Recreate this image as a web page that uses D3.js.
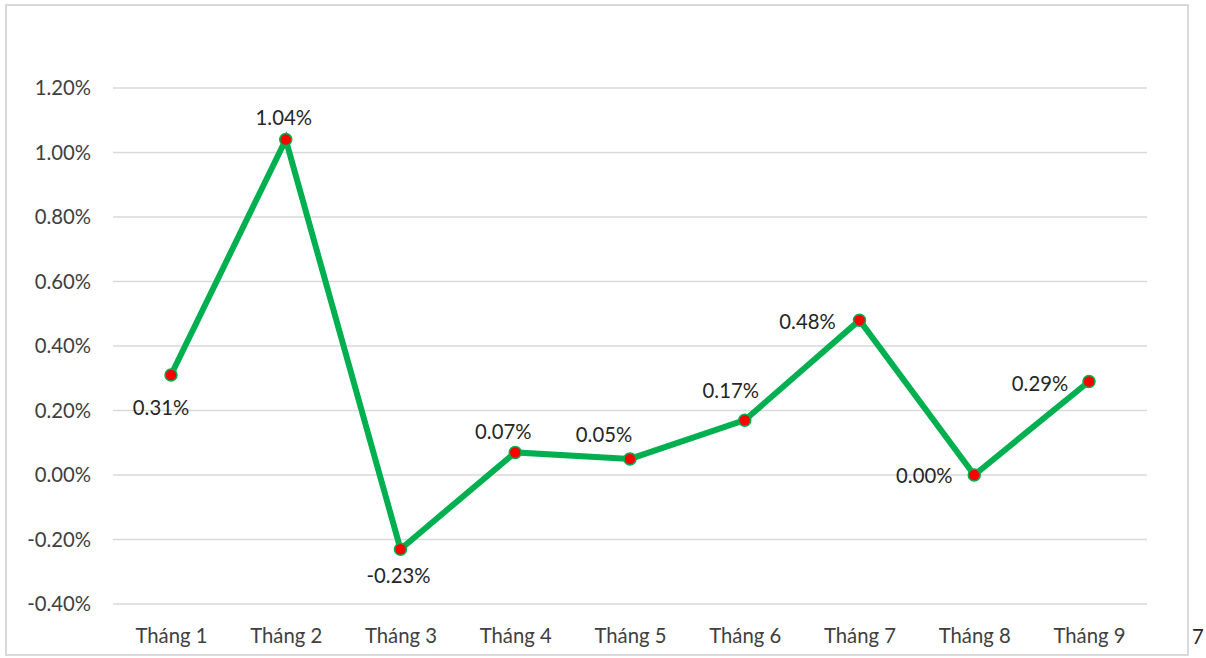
<!DOCTYPE html>
<html>
<head>
<meta charset="utf-8">
<script src="https://cdn.jsdelivr.net/npm/d3@7"></script>
<style>
  html, body { margin: 0; padding: 0; background: #fff; }
  svg { display: block; font-family: Lato, "Open Sans", sans-serif; }
</style>
</head>
<body>
<svg id="chart" width="1206" height="658"></svg>
<script>
// Monthly change, percent
const months = ["Tháng 1", "Tháng 2", "Tháng 3", "Tháng 4", "Tháng 5", "Tháng 6", "Tháng 7", "Tháng 8", "Tháng 9"];
const values = [0.31, 1.04, -0.23, 0.07, 0.05, 0.17, 0.48, 0.00, 0.29];
const yTicks = [-0.4, -0.2, 0, 0.2, 0.4, 0.6, 0.8, 1.0, 1.2];

// Label offsets relative to each point (dx, dy in px)
const labelOffsets = [[-10, 33], [-2, -22], [-2, 27], [-12, -21], [-26, -24], [-14, -29], [-52, 2], [-50, 1], [-49, 2]];

const FONT = "Lato, 'Open Sans', sans-serif";
const FS = 20.3;

const svg = d3.select("#chart");
const fmt = v => v.toFixed(2) + "%";

// outer frame
svg.append("rect")
  .attr("x", 6).attr("y", 5).attr("width", 1182).attr("height", 650)
  .attr("fill", "none").attr("stroke", "#d9d9d9").attr("stroke-width", 2);

const x = d3.scalePoint().domain(months).range([171, 1089]);
const y = d3.scaleLinear().domain([-0.4, 1.2]).range([604, 88]);

// gridlines
svg.append("g").selectAll("line").data(yTicks).join("line")
  .attr("x1", 113).attr("x2", 1147)
  .attr("y1", d => y(d)).attr("y2", d => y(d))
  .attr("stroke", "#d9d9d9").attr("stroke-width", 1.5);

// y axis labels
const yAxis = svg.append("g").attr("transform", "translate(91,0)")
  .call(d3.axisLeft(y).tickValues(yTicks).tickFormat(fmt).tickSize(0).tickPadding(0));
yAxis.select(".domain").remove();
yAxis.selectAll("text").attr("font-size", FS).attr("fill", "#404040")
  .attr("font-family", FONT);

// x axis labels
const xAxis = svg.append("g").attr("transform", "translate(0,636)")
  .call(d3.axisBottom(x).tickSize(0).tickPadding(0));
xAxis.select(".domain").remove();
xAxis.selectAll("text").attr("font-size", FS).attr("fill", "#404040")
  .attr("dy", "0.35em")
  .attr("font-family", FONT);

// line
const line = d3.line().x((d, i) => x(months[i])).y(d => y(d));
svg.append("path").datum(values)
  .attr("d", line).attr("fill", "none")
  .attr("stroke", "#00b050").attr("stroke-width", 6).attr("stroke-linejoin", "miter");

// markers
svg.append("g").selectAll("circle").data(values).join("circle")
  .attr("cx", (d, i) => x(months[i])).attr("cy", d => y(d))
  .attr("r", 6).attr("fill", "#ff0000")
  .attr("stroke", "#00b050").attr("stroke-width", 1.5);

// value labels
svg.append("g").selectAll("text").data(values).join("text")
  .attr("x", (d, i) => x(months[i]) + labelOffsets[i][0])
  .attr("y", (d, i) => y(d) + labelOffsets[i][1])
  .attr("text-anchor", "middle").attr("dy", "0.35em")
  .attr("font-size", FS).attr("fill", "#262626")
  .attr("font-family", FONT)
  .text(fmt);

// page number at right edge
svg.append("text").attr("x", 1192).attr("y", 637).attr("dy", "0.35em")
  .attr("font-size", FS).attr("fill", "#262626").attr("font-family", FONT).text("7");
</script>
</body>
</html>
